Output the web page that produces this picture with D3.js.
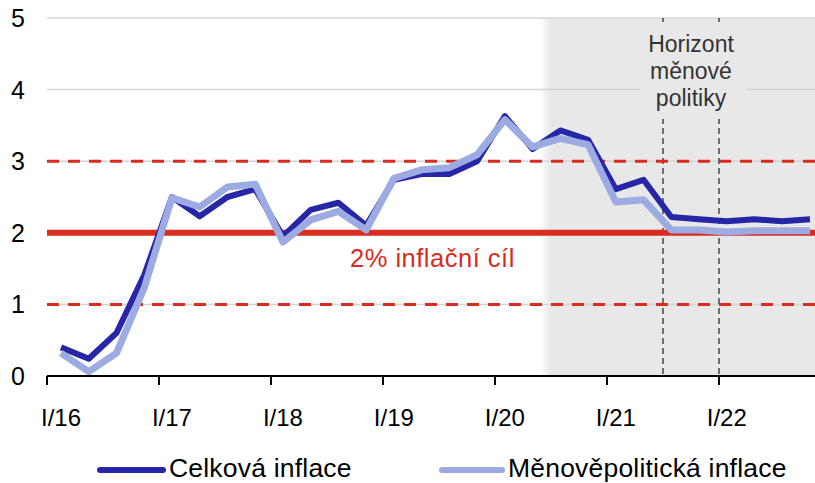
<!DOCTYPE html>
<html>
<head>
<meta charset="utf-8">
<script src="https://cdn.jsdelivr.net/npm/d3@7"></script>
<style>
  body { margin: 0; background: #fff; }
  svg { display: block; font-family: "Liberation Sans", Arial, sans-serif; }
</style>
</head>
<body>
<div id="chart"></div>
<script>
// quarters I/16 .. IV/22
const quarters = [];
for (let yr = 16; yr <= 22; yr++) {
    ["I", "II", "III", "IV"].forEach(q => quarters.push(`${q}/${yr}`));
}

// values (%)
const celkova = [0.40, 0.24, 0.60, 1.41, 2.50, 2.23, 2.50, 2.61,
                 1.95, 2.32, 2.42, 2.10, 2.74, 2.82, 2.82, 3.00,
                 3.63, 3.17, 3.43, 3.30, 2.61, 2.74, 2.22, 2.19,
                 2.16, 2.19, 2.16, 2.19];
const menove = [0.32, 0.06, 0.32, 1.23, 2.49, 2.36, 2.64, 2.68,
                1.87, 2.18, 2.30, 2.04, 2.76, 2.88, 2.91, 3.09,
                3.58, 3.20, 3.32, 3.23, 2.43, 2.46, 2.04, 2.04,
                2.01, 2.03, 2.03, 2.03];

const yTicks = [0, 1, 2, 3, 4, 5];
const years = [2016, 2017, 2018, 2019, 2020, 2021, 2022];
const tickLabels = ["I/16", "I/17", "I/18", "I/19", "I/20", "I/21", "I/22"];
const bandLines = [1, 3];      // tolerance band
const target = 2;
const horizon = [2021.5, 2022]; // monetary policy horizon
const shadeFrom = 2020.4;

const width = 815, height = 483;
const plotLeft = 47, plotRight = 815, plotTop = 18, plotBottom = 376;

const svg = d3.select("#chart").append("svg")
    .attr("width", width)
    .attr("height", height);

const x = d3.scalePoint().domain(quarters).range([61, 810]);
const xYear = d3.scaleLinear().domain([2016, 2022]).range([47, 719]);
const y = d3.scaleLinear().domain([0, 5]).range([plotBottom, plotTop]);

// shaded forecast area with soft left edge
const defs = svg.append("defs");
const grad = defs.append("linearGradient").attr("id", "shade");
grad.append("stop").attr("offset", "0%").attr("stop-color", "#e8e8e8").attr("stop-opacity", 0);
grad.append("stop").attr("offset", "4%").attr("stop-color", "#e8e8e8").attr("stop-opacity", 1);
grad.append("stop").attr("offset", "100%").attr("stop-color", "#e8e8e8").attr("stop-opacity", 1);

svg.append("rect")
    .attr("x", xYear(shadeFrom))
    .attr("y", plotTop)
    .attr("width", plotRight - xYear(shadeFrom))
    .attr("height", plotBottom - plotTop)
    .attr("fill", "url(#shade)");

// gridlines
svg.append("g").selectAll("line")
    .data(yTicks.filter(d => d > 0))
    .join("line")
    .attr("x1", plotLeft).attr("x2", plotRight)
    .attr("y1", d => y(d)).attr("y2", d => y(d))
    .attr("stroke", "#d4d4d4")
    .attr("stroke-width", 1.5);

// horizon dashed lines
svg.append("g").selectAll("line")
    .data(horizon)
    .join("line")
    .attr("x1", d => xYear(d)).attr("x2", d => xYear(d))
    .attr("y1", plotTop).attr("y2", plotBottom)
    .attr("stroke", "#444")
    .attr("stroke-width", 1.5)
    .attr("stroke-dasharray", "6,4");

// label box for horizon
const hx = (xYear(horizon[0]) + xYear(horizon[1])) / 2;
svg.append("rect")
    .attr("x", 640).attr("y", 22)
    .attr("width", 106).attr("height", 97)
    .attr("fill", "#e8e8e8");
svg.append("text")
    .attr("x", hx).attr("y", 52)
    .attr("text-anchor", "middle")
    .attr("fill", "#333")
    .style("font-size", "23px")
    .selectAll("tspan")
    .data(["Horizont", "měnové", "politiky"])
    .join("tspan")
    .attr("x", hx)
    .attr("dy", (d, i) => i === 0 ? 0 : 27)
    .text(d => d);

// tolerance band and target
svg.append("g").selectAll("line")
    .data(bandLines)
    .join("line")
    .attr("x1", plotLeft).attr("x2", plotRight)
    .attr("y1", d => y(d)).attr("y2", d => y(d))
    .attr("stroke", "#d92b20")
    .attr("stroke-width", 3)
    .attr("stroke-dasharray", "12,9");

svg.append("line")
    .attr("x1", plotLeft).attr("x2", plotRight)
    .attr("y1", y(target)).attr("y2", y(target))
    .attr("stroke", "#d92b20")
    .attr("stroke-width", 6);

svg.append("text")
    .attr("x", 350).attr("y", 267)
    .attr("fill", "#d92b20")
    .style("font-size", "25.5px")
    .style("letter-spacing", "0.5px")
    .text("2% inflační cíl");

// series
const line = d3.line()
    .x((d, i) => x(quarters[i]))
    .y(d => y(d));

svg.append("path")
    .datum(celkova)
    .attr("d", line)
    .attr("fill", "none")
    .attr("stroke", "#2626a6")
    .attr("stroke-width", 6)
    .attr("stroke-linejoin", "round");

svg.append("path")
    .datum(menove)
    .attr("d", line)
    .attr("fill", "none")
    .attr("stroke", "#9dabe3")
    .attr("stroke-width", 7)
    .attr("stroke-linejoin", "round");

// x axis
svg.append("line")
    .attr("x1", plotLeft).attr("x2", plotRight)
    .attr("y1", plotBottom).attr("y2", plotBottom)
    .attr("stroke", "#000")
    .attr("stroke-width", 2);

svg.append("g").selectAll("line")
    .data(years)
    .join("line")
    .attr("x1", d => xYear(d)).attr("x2", d => xYear(d))
    .attr("y1", plotBottom).attr("y2", plotBottom + 9)
    .attr("stroke", "#000")
    .attr("stroke-width", 2);

svg.append("g").selectAll("text")
    .data(tickLabels)
    .join("text")
    .attr("x", d => x(d))
    .attr("y", 426)
    .attr("text-anchor", "middle")
    .style("font-size", "24px")
    .text(d => d);

// y labels
svg.append("g").selectAll("text")
    .data(yTicks)
    .join("text")
    .attr("x", 25)
    .attr("y", d => y(d))
    .attr("dy", "0.36em")
    .attr("text-anchor", "end")
    .style("font-size", "25px")
    .text(d => d);

// legend
const legend = [
    { name: "Celková inflace", color: "#2626a6", x1: 100, x2: 163 },
    { name: "Měnověpolitická inflace", color: "#9dabe3", x1: 442, x2: 502 }
];
const lg = svg.append("g").selectAll("g").data(legend).join("g");
lg.append("line")
    .attr("x1", d => d.x1).attr("x2", d => d.x2)
    .attr("y1", 470).attr("y2", 470)
    .attr("stroke", d => d.color)
    .attr("stroke-width", 6)
    .attr("stroke-linecap", "round");
lg.append("text")
    .attr("x", d => d.x2 + 6)
    .attr("y", 477)
    .style("font-size", "26.5px")
    .style("letter-spacing", "0.2px")
    .text(d => d.name);
</script>
</body>
</html>
